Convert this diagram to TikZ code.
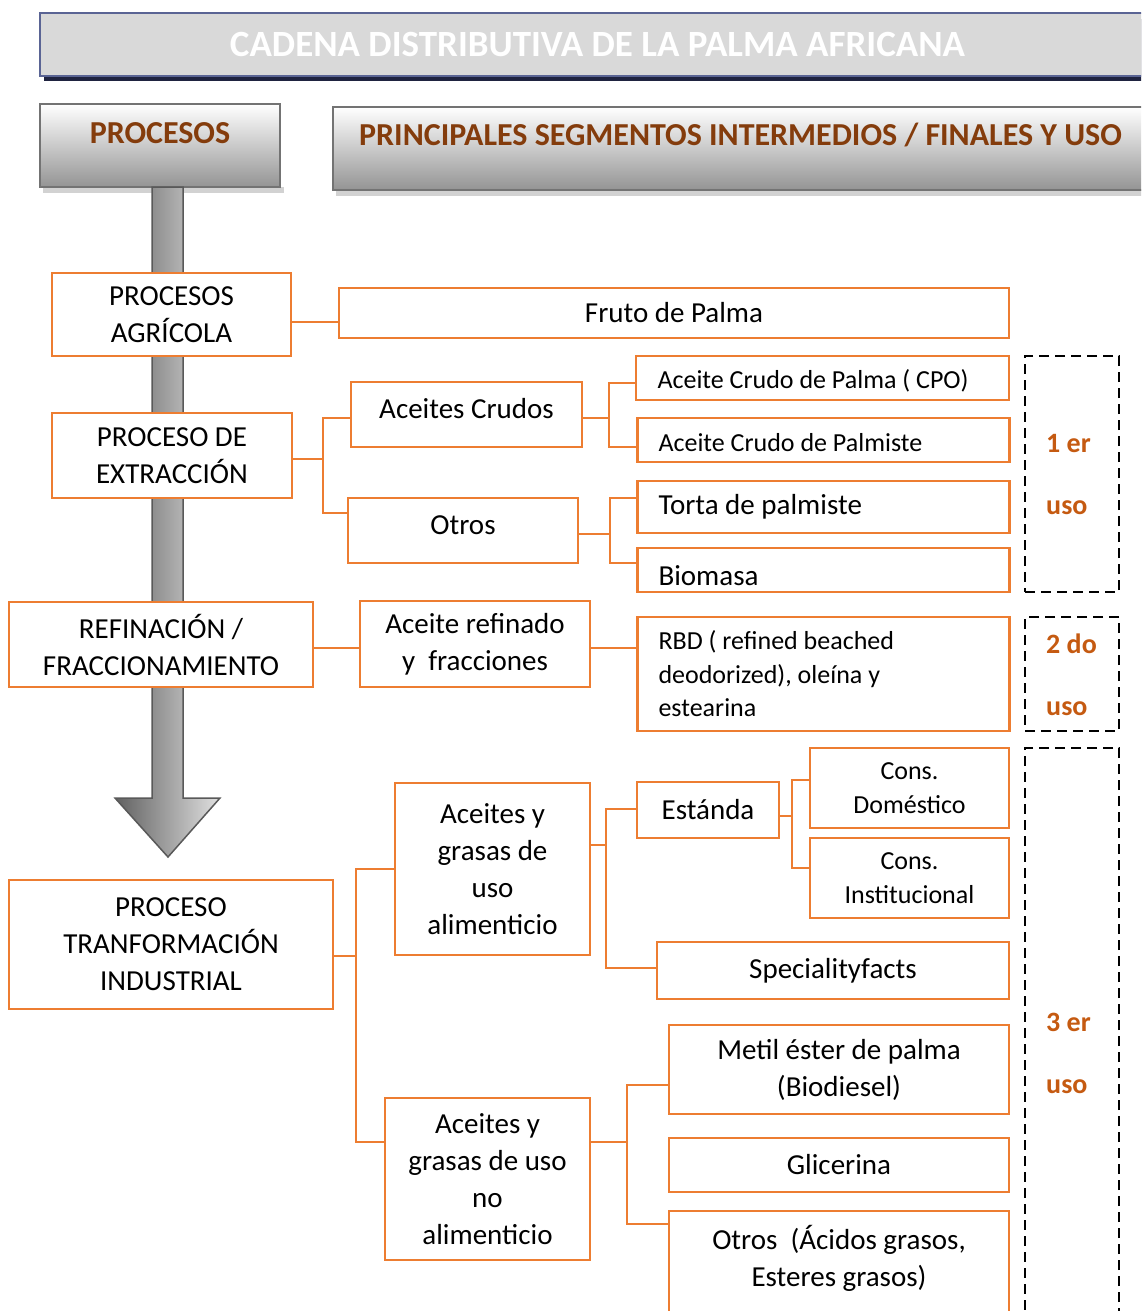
\documentclass[tikz,border=0pt]{standalone}
\usepackage{fontspec}
\setmainfont{Carlito}
\usepackage{tikz}
\usetikzlibrary{positioning}
\usepackage{xcolor}
\definecolor{naranja}{HTML}{ED7D31}
\definecolor{cafe}{HTML}{843C0C}
\definecolor{usocol}{HTML}{C55A11}
\definecolor{grisclaro}{HTML}{D9D9D9}
\definecolor{azulborde}{HTML}{5A6494}
\definecolor{azulsombra}{HTML}{1F2340}

\begin{document}
\begin{tikzpicture}[x=1pt, y=-1pt,
	caja/.style={draw=naranja, line width=2.2pt, fill=white, inner sep=0pt, align=center, font=\fontsize{29}{37}\selectfont},
	cajaizq/.style={caja, align=flush left, inner xsep=21pt, text width=330pt},
	chica/.style={font=\fontsize{26}{33.5}\selectfont},
	link/.style={draw=naranja, line width=2.2pt},
	usobox/.style={draw=black, line width=2.8pt, dash pattern=on 10pt off 6pt, minimum width=94pt},
	usotxt/.style={text=usocol, anchor=west, align=left, inner sep=0pt, font=\bfseries\fontsize{28}{62}\selectfont},
	cabecera/.style={draw=gray!90!black, line width=2.5pt, top color=white, bottom color=black!42, inner sep=0pt},
	cabtxt/.style={text=cafe, inner sep=0pt, font=\bfseries\fontsize{32}{36}\selectfont}]
			\useasboundingbox (0,0) rectangle (1141,1311);
			\clip (0,0) rectangle (1141,1311);
			% Titulo
			\fill[azulsombra] (44,19) rectangle (1165,81);
			\node[draw=azulborde, line width=2.5pt, fill=grisclaro, minimum width=1115pt, minimum height=63pt, text=white, font=\bfseries\fontsize{37}{40}\selectfont] (titulo) at (597.5,44.5) {CADENA DISTRIBUTIVA DE LA PALMA AFRICANA};
			% Cabeceras
			\fill[gray!35] (43,187) rectangle (284,193);
			\fill[gray!35] (336,190) rectangle (1160,196);
			\node[cabecera, minimum width=240pt, minimum height=83pt] (cabproc) at (160,145.5) {};
			\node[cabtxt] (cabproctxt) at (160,133) {PROCESOS};
			\node[cabecera, minimum width=817pt, minimum height=83pt] (cabseg) at (741.5,148.5) {};
			\node[cabtxt, anchor=west] (cabsegtxt) at (359,135) {PRINCIPALES SEGMENTOS INTERMEDIOS / FINALES Y USO};
			% Flecha
			\draw[gray!70!black, line width=1.5pt, left color=black!62, right color=black!12] (152,187) -- (183,187) -- (183,798) -- (220,798) -- (168,857) -- (115,798) -- (152,798) -- cycle;
			% Procesos
			\node[caja, minimum width=239pt, minimum height=83pt] (agri) at (171.5,314.5) {PROCESOS\\AGRÍCOLA};
			\node[caja, minimum width=240pt, minimum height=85pt] (extr) at (172,455.5) {PROCESO DE\\EXTRACCIÓN};
			\node[caja, minimum width=304pt, minimum height=85pt] (refin) at (161,644.5) {REFINACIÓN /\\FRACCIONAMIENTO};
			\node[caja, minimum width=324pt, minimum height=129pt] (trans) at (171,944.5) {PROCESO\\TRANFORMACIÓN\\INDUSTRIAL};
			% Segmentos intermedios
			\node[caja, minimum width=670pt, minimum height=50pt] (fruto) at (674,313) {Fruto de Palma};
			\node[caja, minimum width=231pt, minimum height=65pt] (crudos) at (466.5,414.5) {\raisebox{5.5pt}[\height][\depth]{Aceites Crudos}};
			\node[caja, minimum width=230pt, minimum height=65pt] (otros) at (463,530.5) {\raisebox{5.5pt}[\height][\depth]{Otros}};
			\node[caja, minimum width=230pt, minimum height=86pt] (refinado) at (475,644) {Aceite refinado\\y\ \ fracciones};
			\node[caja, minimum width=195pt, minimum height=172pt] (alim) at (492.5,869) {Aceites y\\grasas de\\uso\\alimenticio};
			\node[caja, minimum width=205pt, minimum height=162pt] (noalim) at (487.5,1179) {Aceites y\\grasas de uso\\no\\alimenticio};
			% Segmentos finales
			\node[cajaizq, chica, minimum width=373pt, minimum height=44pt] (cpo) at (822.5,378) {\raisebox{-3pt}[\height][\depth]{Aceite Crudo de Palma ( CPO)}};
			\node[cajaizq, chica, minimum width=371pt, minimum height=44pt] (palmiste) at (823.5,440) {\raisebox{-3pt}[\height][\depth]{Aceite Crudo de Palmiste}};
			\node[cajaizq, minimum width=371pt, minimum height=52pt] (torta) at (823.5,507) {Torta de palmiste};
			\node[cajaizq, minimum width=371pt, minimum height=44pt] (biomasa) at (823.5,570) {\raisebox{-6pt}[\height][\depth]{Biomasa}};
			\node[cajaizq, chica, minimum width=371pt, minimum height=114pt] (rbd) at (823.5,674) {RBD ( refined beached\\deodorized), oleína y\\estearina};
			\node[caja, minimum width=142pt, minimum height=56pt] (estanda) at (708,810) {Estánda};
			\node[caja, chica, minimum width=199pt, minimum height=80pt] (domes) at (909.5,788) {Cons.\\Doméstico};
			\node[caja, chica, minimum width=199pt, minimum height=80pt] (instit) at (909.5,878) {Cons.\\Institucional};
			\node[caja, minimum width=352pt, minimum height=57pt] (special) at (833,970.5) {Specialityfacts};
			\node[caja, minimum width=340pt, minimum height=89pt] (metil) at (839,1069.5) {Metil éster de palma\\(Biodiesel)};
			\node[caja, minimum width=340pt, minimum height=54pt] (glic) at (839,1165) {Glicerina};
			\node[caja, minimum width=340pt, minimum height=163pt] (otrosag) at (839,1292.5) {Otros\ \ (Ácidos grasos,\\Esteres grasos)\\\mbox{}\\\mbox{}};
			% Usos
			\node[usobox, minimum height=236pt] (uso1) at (1072,474) {};
			\node[usobox, minimum height=114pt] (uso2) at (1072,674) {};
			\node[usobox, minimum height=620pt] (uso3) at (1072,1058) {};
			\node[usotxt] (uso1txt) at (1046,475) {1 er\\uso};
			\node[usotxt] (uso2txt) at (1046,675) {2 do\\uso};
			\node[usotxt] (uso3txt) at (1046,1053.5) {3 er\\uso};
			% Conectores
			\draw[link] ([yshift=-7.5pt]agri.east) -- ([yshift=-9pt]fruto.west);
			\draw[link] ([yshift=-3.5pt]extr.east) -- ++(30,0) |- ([yshift=-3.5pt]crudos.west);
			\draw[link] ([yshift=-3.5pt]extr.east) -- ++(30,0) |- ([yshift=17.5pt]otros.west);
			\draw[link] ([yshift=-3.5pt]crudos.east) -- ++(26,0) |- ([yshift=-5pt]cpo.west);
			\draw[link] ([yshift=-3.5pt]crudos.east) -- ++(26,0) |- ([yshift=-7pt]palmiste.west);
			\draw[link] ([yshift=-3.5pt]otros.east) -- ++(31,0) |- ([yshift=9pt]torta.west);
			\draw[link] ([yshift=-3.5pt]otros.east) -- ++(31,0) |- ([yshift=7pt]biomasa.west);
			\draw[link] ([yshift=-3.5pt]refin.east) -- ([yshift=-4pt]refinado.west);
			\draw[link] ([yshift=-4pt]refinado.east) -- ([yshift=26pt]rbd.west);
			\draw[link] ([yshift=-11.5pt]trans.east) -- ++(22,0) |- (alim.west);
			\draw[link] ([yshift=-11.5pt]trans.east) -- ++(22,0) |- ([yshift=37pt]noalim.west);
			\draw[link] ([yshift=24pt]alim.east) -- ++(15,0) |- ([yshift=1pt]estanda.west);
			\draw[link] ([yshift=24pt]alim.east) -- ++(15,0) |- ([yshift=2.5pt]special.west);
			\draw[link] ([yshift=-6pt]estanda.east) -- ++(12,0) |- ([yshift=8pt]domes.west);
			\draw[link] ([yshift=-6pt]estanda.east) -- ++(12,0) |- ([yshift=10pt]instit.west);
			\draw[link] ([yshift=37pt]noalim.east) -- ++(36,0) |- ([yshift=-15.5pt]metil.west);
			\draw[link] ([yshift=37pt]noalim.east) -- ++(36,0) |- ([yshift=-14pt]otrosag.north west);
\end{tikzpicture}
\end{document}
